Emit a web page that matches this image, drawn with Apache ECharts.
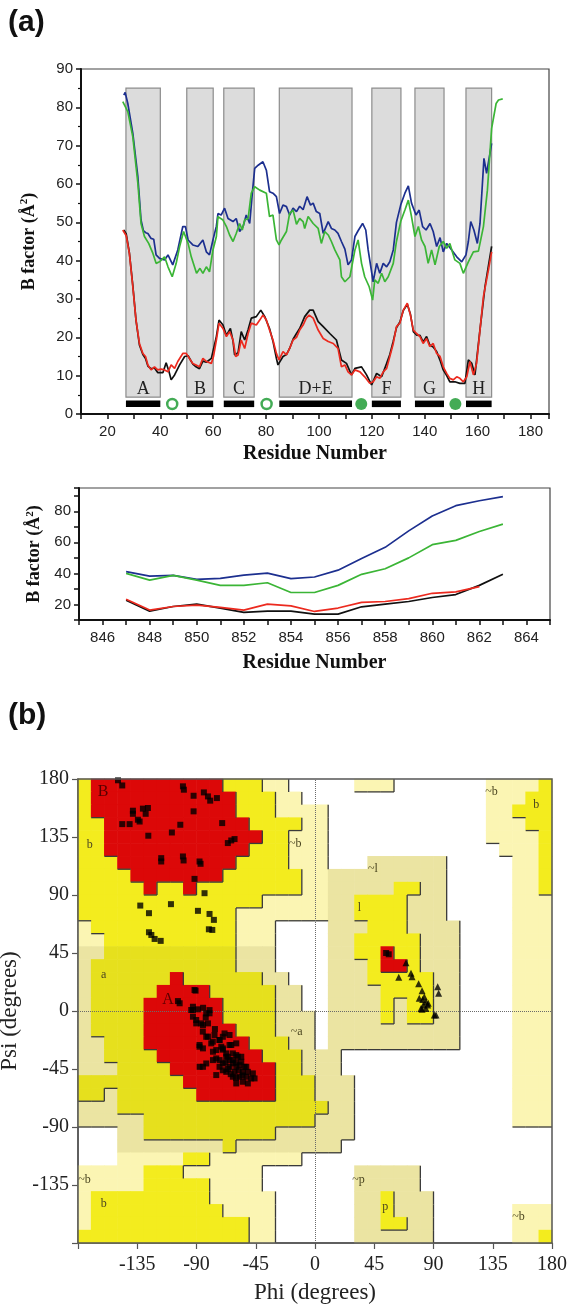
<!DOCTYPE html>
<html>
<head>
<meta charset="utf-8">
<title>B factors and Ramachandran plot</title>
<script src="https://cdn.jsdelivr.net/npm/echarts@6/dist/echarts.min.js"></script>
<style>
  html, body { margin: 0; padding: 0; background: #fff; }
  #chart { width: 571px; height: 1304px; }
</style>
</head>
<body>
<div id="chart"></div>
<script>
// ---- panel (a), upper plot: B factor per residue, [residue, B]
const blueTop = [[26.2,83.2],[26.7,83.9],[27.7,81],[29.6,73.2],[31.5,61.9],[32.7,50.6],[33.6,47.8],[34.5,47.3],[35.3,47.1],[36.5,45.8],[37.5,45.6],[38.4,41.5],[39.7,40.6],[41.6,40.2],[42.9,41.5],[44.7,38.9],[46.6,42.8],[48.5,48.9],[49.5,48.9],[50.5,45.4],[52.3,44.1],[54.2,43.7],[56.1,45.4],[57.4,42.3],[58.6,41.5],[59.9,45.4],[61.2,49],[61.8,52.3],[63,51.9],[64.3,53.7],[65.6,51],[67.5,50.2],[68.7,51],[70,47.6],[71.3,48.9],[72.5,51.9],[73.8,49.7],[74.8,57.6],[75.7,64.1],[77,64.9],[78.8,65.8],[80.1,63.6],[81.3,58],[82.6,57.6],[83.9,56.7],[85.1,52.3],[86.4,54.5],[87.7,54.1],[88.9,51.9],[90.2,53.7],[91.5,52.8],[92.7,54.2],[94,53.3],[95.5,56.7],[96.8,54.5],[97.8,55],[99,52.8],[100.3,52.3],[101.6,47.1],[103.5,50.2],[104.7,48.4],[106,48],[107.2,47.1],[108.5,45],[109.8,43],[111,38.9],[112.3,40.2],[113.6,46.3],[114.8,47.8],[116.5,49.7],[117.7,48],[118.6,42.8],[120.5,34.5],[121.8,39.3],[123,36.7],[124.3,39.3],[125.6,38.4],[126.8,39.7],[128.1,42.8],[129.3,50],[130.9,54.5],[132.5,57.6],[133.8,59.5],[135,55],[136.7,51.9],[137.9,53.2],[139.2,48.9],[140.5,48],[142,49.7],[143.2,47.6],[144.5,43.7],[145.8,46],[147,42.3],[148.3,44.5],[150.2,42.8],[152.1,41],[154,39.7],[155.6,41.5],[156.5,45],[157.4,50.2],[158.6,48],[159.9,44.5],[160.9,49.7],[162.4,66.7],[163.4,62.8],[165.3,70.6]];
const greenTop = [[25.8,81.5],[27.7,78.9],[29.6,72.3],[31.5,60.2],[32.7,49.7],[34,46.3],[35.6,44.5],[37.2,41.9],[38.4,39.3],[39.7,39.7],[41.6,41],[42.9,38.4],[44.5,35.8],[46,39.3],[47.3,43.7],[48.8,47.6],[49.5,48],[50.5,44.5],[51.7,41],[53.7,36.7],[55,38],[56.1,36.7],[57.4,38.4],[58.6,37.1],[59.9,42.8],[61.2,46.3],[61.8,51.5],[63.7,50.6],[65,48.9],[66.2,46.7],[67.5,45],[68.7,47.1],[70,49.7],[71,48],[71.9,50.6],[73.2,51],[74.4,57.6],[75.7,59.3],[77.6,58.4],[80.1,57.6],[81.3,51.5],[82.6,51.9],[83.9,45.4],[84.9,44.1],[85.8,45.4],[87.7,47.6],[88.9,52.3],[90.2,53.2],[91.5,49.5],[92.7,51],[94,50.2],[94.6,48.4],[95.9,51.5],[97.8,49.7],[99.7,48.4],[100.9,44.5],[102.2,47.6],[103.5,46.7],[104.7,45],[106,42.8],[107.9,40.2],[108.5,35.8],[109.8,34.5],[111.7,35.8],[113.6,42.8],[114.8,45.4],[116.1,39.3],[117.3,35.8],[119,33.2],[120.3,29.7],[121.1,35],[122.4,34.1],[123.7,36.7],[124.9,34.5],[126.2,35.8],[128.1,39.3],[129.3,45],[130.9,50.2],[132.5,53.2],[133.8,55.8],[135,51.5],[136.3,46.3],[137.6,48.9],[138.8,45.4],[140.1,43.7],[141.3,39.3],[142.6,42.8],[143.9,38.9],[145.5,43.7],[147,45],[148.3,43.2],[149.5,44.5],[151.4,40.2],[153.3,39.3],[154.6,36.7],[156.5,39.7],[158.4,42.3],[160.3,42.5],[162.2,48.9],[163.7,58.4],[165.3,74.5],[167,81],[167.9,81.9],[169.5,82.2]];
const redTop = [[25.8,48],[27.1,46.5],[28.3,41.9],[29.6,33.2],[30.8,24.5],[32.1,18.4],[33.4,15.8],[34.4,15],[35.3,12.8],[36.5,11.5],[37.8,12.3],[39,11.5],[40.3,11.7],[41.6,11.5],[42.9,11],[44.1,12.8],[45.4,11.9],[46.6,13.7],[48.5,15.8],[49.8,15.8],[51,14.5],[52.3,13.2],[53.5,12.8],[54.8,12.3],[56.1,14.5],[57.4,13.7],[59.3,13.2],[60.1,15],[61.2,19.3],[62.2,23.7],[63.7,22.3],[65,20.2],[66.2,21.5],[67.5,19.3],[68.5,15],[69.4,15.4],[70.6,19.3],[71.9,17.1],[73.2,21],[74.4,23.7],[76.3,23.2],[77.6,24.5],[78.8,25.8],[80.1,24.5],[81.3,21.9],[82.6,19.3],[83.9,15.8],[84.9,14.1],[86.4,16.3],[87.7,15.4],[88.9,17.1],[90.2,19.3],[91.5,20],[92.7,21.9],[94,23.2],[95.2,25],[96.3,25.8],[97.8,25],[99.7,21.9],[101.6,19.7],[103.5,18.9],[105.4,18.4],[107.2,17.1],[108.5,12.3],[109.8,12.8],[111,11],[112.3,10.2],[113.6,11.5],[115.5,11],[117.3,9.7],[119.2,8],[120.5,8.4],[121.8,9.7],[123,9.3],[124.3,11],[125.6,11.9],[126.8,15],[128.1,18.4],[129.3,22.8],[130.6,23.7],[131.9,27.1],[133.4,28.9],[134.6,25.8],[135.7,21.9],[136.9,21],[138.2,20.2],[139.4,18.4],[140.7,19.7],[141.9,17.6],[143.2,18.4],[144.5,15.8],[145.8,15],[147,12.3],[148.3,10.6],[149.5,9.3],[150.8,8.9],[152.1,9.7],[153.3,9.3],[154.6,8.4],[155.9,9.7],[157.1,13.7],[158.4,10.2],[159.6,13.2],[160.9,21.9],[162.2,30.6],[164.1,37.6],[165.3,42.3]];
const blackTop = [[26.2,48],[27.1,47],[28.3,42],[29.6,33.5],[30.8,24.5],[32.1,18],[33.4,15.5],[34.4,14.5],[35.3,12.5],[36.5,11.8],[37.8,12],[39,10.8],[39.7,10.6],[41,10.8],[42.2,13.4],[43.3,11],[44.1,8.9],[45.4,10.2],[47.3,12.8],[49.2,15],[50.5,15.2],[52.3,13],[53.5,12.3],[54.8,11.8],[56.1,13.8],[57.4,13.5],[59.3,14.5],[61.2,20.2],[62.2,24.5],[63.7,23.2],[65,20.5],[66.5,22.3],[67.5,19],[68.1,15.4],[69.4,16],[70.6,21.5],[71.9,19.3],[73.2,22],[74.4,25],[76.3,25.4],[78,27.1],[79.5,25.4],[81.3,22.3],[82.6,19],[83.9,14.5],[84.5,12.8],[86.4,15],[87.7,15.5],[88.9,17.1],[90.2,19.5],[91.5,21],[92.7,22.3],[94.6,25.4],[96.5,27.1],[97.8,27.1],[99.7,24.1],[101.6,22.8],[104.1,21],[106.6,19.3],[108.5,14.1],[110.4,13.2],[112.3,10.2],[113.6,11.9],[116.1,12.3],[118,10.2],[119.9,7.6],[121.8,10.6],[123.7,9.7],[125.6,13.2],[126.8,15.5],[128.1,19],[129.3,22.5],[130.6,24],[131.9,27],[133.4,28.6],[134.6,26],[135.7,21.5],[136.9,20.6],[138.2,20.5],[139.4,18.8],[140.7,20.2],[141.9,18],[143.2,17.5],[144.5,16.3],[145.8,14],[147,11.5],[148.3,10],[149.5,8.4],[151.4,8.4],[153.3,8],[155.2,8],[156.5,14.1],[157.8,13.2],[159,10.2],[160.9,22],[162.8,33.2],[165.3,43.7]];

// helices: [first residue, last residue, name]
const helices = [[27,40,'A'],[50,60,'B'],[64,75.5,'C'],[85,112.5,'D+E'],[120,131,'F'],[136.3,147.3,'G'],[155.6,165.3,'H']];
const openSites = [44.5, 80.2];
const filledSites = [116, 151.6];

// ---- panel (a), lower plot
const residuesLow = [847,848,849,850,851,852,853,854,855,856,857,858,859,860,861,862,863];
const blueLow  = [41.1,38.3,38.7,36.2,36.8,38.9,40.2,36.6,37.7,42.1,49.6,56.8,67.4,77,83.6,86.8,89.4];
const greenLow = [40,35.7,38.7,35.7,32.3,32.3,34,27.7,27.7,32.3,39.4,43,50,58.5,61.3,67,71.7];
const redLow   = [23.4,16.4,18.7,19.6,18.1,16.4,20.2,19.1,15.5,17.7,21.3,21.9,23.8,27.2,28.1,31.5,null];
const blackLow = [22.8,15.7,18.7,20.2,17.7,14.9,15.7,15.7,13.8,13.8,18.5,20.2,21.9,24.5,26.4,32.3,39.4];

// ---- panel (b): Ramachandran regions, 10 degree cells, psi 180 -> -180 (rows), phi -180 -> 180 (cols)
// 0 disallowed, 1 pale, 2 khaki, 3 allowed, 4 allowed (shaded), 5 core
const ramaRows = [
  '355555555553331100000111000000011113',
  '355555555555333110000000000000011133',
  '355555555555333111100000000000011333',
  '335555555555533331100000000000011133',
  '335555555555553311100000000000011113',
  '335555555555533311100000000000001113',
  '333555555555333311100022222200000113',
  '333355555553333331122222222200000113',
  '333335335333333331122222332200000113',
  '333333333333331111122333322200000111',
  '333333333333111111122333322200000111',
  '133333333333111000022233322220000111',
  '113333333333111000022333332220000111',
  '224444444444222000022335332220000111',
  '244444444444222000022235532220000111',
  '244444454444442200022233333220000111',
  '244444555544444220022223333220000111',
  '244445555554444220022223233220000111',
  '244445555554444222022223233220000111',
  '244445555555444222022222222220000111',
  '224445555555544422022222222220000111',
  '224444555555554442220000000000000111',
  '222444455555555442220000000000000111',
  '444444445555555444222000000000000111',
  '442444444555555444222000000000000111',
  '222444444444444444422000000000000111',
  '222224444444444444222000000000000111',
  '000224444444444222222000000000000000',
  '000222222224222222220000000000000000',
  '000111113311111110000000000000000000',
  '111113331111110000000222220000000000',
  '111113333311110000000222220000000000',
  '133333333311111000000223222000000000',
  '133333333331111000000223222000000111',
  '133333333333311000000223322000000111',
  '333333333333311000000222222000000113'
];
// residues: [phi, psi]
const nonGly = [[-149.6,179],[-146.4,175],[-100.3,174.3],[-99.6,171.7],[-92.2,167],[-84.4,169.6],[-81.3,166.5],[-79.6,163.2],[-74.5,165.2],[-138.3,155.4],[-138.3,153],[-130.7,157],[-126.9,157.5],[-128.6,153],[-134.5,148.4],[-133.2,147],[-146.4,145],[-140.8,145],[-92.2,154.9],[-102.3,144.5],[-108.7,138.5],[-70.5,145.8],[-126.6,136],[-66.2,130.3],[-63.6,132.3],[-61.1,133.4],[-116.8,118.6],[-116.8,116],[-100.3,119.9],[-99.8,116.8],[-87.7,116],[-86.9,114.2],[-91.5,102.5],[-83.9,91.4],[-132.7,81.8],[-126.1,75.9],[-109.4,82.9],[-88.9,77.7],[-80.1,75.3],[-76.8,70.7],[-80.6,63.4],[-78,62.9],[-126.1,61.1],[-124.3,59],[-121.8,55.9],[-117.2,54.4],
  [-104.1,7.7],[-102.8,6],[-90.7,15.8],[-92.7,3.3],[-88.9,1.3],[-85,2.5],[-80.1,0.7],[-94,0.8],[-92.7,-4.4],[-90.2,-9.6],[-85.1,-10.9],[-80.1,-1.8],[-81.3,-9.6],[-87.7,-27.7],[-81.3,-19.9],[-78.8,-25.1],[-75,-30.3],[-72.5,-22.5],[-64.9,-26.4],[-62.4,-32.9],[-58.6,-35.5],[-67.4,-35.5],[-70,-40.7],[-64.9,-43.3],[-59.8,-43.3],[-57.3,-42],[-54.8,-47.2],[-52.2,-51],[-48.5,-52.3],[-45.9,-52.3],[-51,-56.2],[-62.4,-51],[-67.4,-47.2],[-75,-49.7],[-77.5,-38.1],[-82.6,-40.7],[-87.6,-43.3],[-68.7,-17.4],[-62.4,-38.1],[-57.3,-51],[-61.1,-47.2],[-72.5,-43.3],[-67.4,-32.9],[-75,-36.8],[-71.2,-27.7],[-77.5,-31.6],[-64.9,-38.1],[-56,-39.4],[-53.5,-43.3],[-51,-47.2],[-47.2,-48.4],[-59.8,-56.2],[-54.8,-54.9],[-83,-5],[-76,-14],[-70,-30],[-60,-40],[-66,-45],
  [-91.5,16.3],[-92.7,0.8],[-90.2,-7],[-86.4,-9.6],[-82.6,-1.8],[-85.2,-16],[-82.6,-20],[-87.7,-26.4],[-85.1,-29],[-76.3,-18.6],[-72.5,-22.5],[-77.6,-23.8],[-70,-20],[-64.9,-18.6],[-70,-29],[-63.6,-26.4],[-59.8,-25.1],[-66.2,-35.5],[-59.8,-34.2],[-56,-35.5],[-72.5,-38.1],[-62.4,-40.6],[-52.2,-43.3],[-85.1,-43.3],[-68,-40],[-58,-46],[-64,-49],[-55,-50],[-70,-46],[-60,-52],
  [54,45],[56,44]];
const gly = [[69.1,37.5],[63.6,26.1],[72.9,29.2],[73.7,26.6],[78.7,21.2],[81.3,15.8],[79.2,9.8],[81.8,9],[84.3,7.2],[83,11.1],[85.6,4.6],[80.5,2],[93.2,18.9],[93.9,13.7],[90.6,-3.2],[82.3,4.7],[84.3,2],[81.3,1.3],[91.9,-3.1],[86,6]];
const regionLabels = [[-161,170,'B'],[-171,129,'b'],[-160.5,28,'a'],[-111.7,8.5,'A'],[-15,130,'~b'],[-14,-16,'~a'],[44,110,'~l'],[33.7,80,'l'],[33,-131,'~p'],[53.4,-152,'p'],[134,170,'~b'],[168,160,'b'],[-175,-131,'~b'],[-160.5,-150,'b'],[154.6,-160,'~b']];

const ramaColors = { '1': '#fbf5b3', '2': '#ebe4a2', '3': '#f3ec1e', '4': '#e6e01d', '5': '#dc0808' };
const levelOf = { '0': 0, '1': 1, '2': 1, '3': 2, '4': 2, '5': 3 };

const SANS = '"Liberation Sans", Arial, sans-serif';
const SERIF = '"Liberation Serif", "Times New Roman", serif';

// build cells and the dark edges along right / lower borders of each region
const ramaCells = [];
const ramaEdges = [];
function lvl(r, c) { return levelOf[ramaRows[r][c]]; }
for (let r = 0; r < 36; r++) {
  for (let c = 0; c < 36; c++) {
    const code = ramaRows[r][c];
    const phi = -180 + 10 * c, psiTop = 180 - 10 * r;
    if (code !== '0') ramaCells.push([phi, psiTop - 10, +code]);
    const L = lvl(r, c);
    if (L > 0) {
      if (c < 35 && lvl(r, c + 1) < L) ramaEdges.push([phi + 10, psiTop, phi + 10, psiTop - 10]);
      if (r < 35 && lvl(r + 1, c) < L) ramaEdges.push([phi, psiTop - 10, phi + 10, psiTop - 10]);
    }
  }
}

const chart = echarts.init(document.getElementById('chart'));

const G1 = { left: 81, top: 69, width: 468, height: 345 };
const G2 = { left: 79, top: 488, width: 471, height: 132 };
const G3 = { left: 78, top: 779, width: 474, height: 464 };

const helixTop = 85, helixBottom = 4.4, barTop = 3.5, barBottom = 1.8, siteY = 2.6;

function axisBase(extra) {
  return Object.assign({
    type: 'value',
    splitLine: { show: false },
    axisLine: { show: true, onZero: false, lineStyle: { color: '#111', width: 2 } },
    axisTick: { show: true, length: 5, lineStyle: { color: '#111', width: 1.5 } },
    axisLabel: { color: '#222', fontFamily: SANS, fontSize: 15 }
  }, extra);
}

const bName = {
  name: '{a|B factor (Å}{s|2}{a|)}',
  nameLocation: 'middle',
  nameTextStyle: {
    rich: {
      a: { fontFamily: SERIF, fontWeight: 'bold', fontSize: 18, color: '#111' },
      s: { fontFamily: SERIF, fontWeight: 'bold', fontSize: 11, color: '#111', padding: [0, 0, 9, 0] }
    }
  }
};
const resName = {
  name: 'Residue Number',
  nameLocation: 'middle',
  nameTextStyle: { fontFamily: SERIF, fontWeight: 'bold', fontSize: 20, color: '#111' }
};

function lineSeries(data, color, xi) {
  return {
    type: 'line', xAxisIndex: xi, yAxisIndex: xi, data: data,
    showSymbol: false, symbol: 'none', z: 5,
    lineStyle: { color: color, width: 1.7 }
  };
}

const option = {
  animation: false,
  backgroundColor: '#fff',
  grid: [
    Object.assign({ show: true, borderColor: '#444', borderWidth: 1.2, outerBoundsMode: 'none' }, G1),
    Object.assign({ show: true, borderColor: '#444', borderWidth: 1.2, outerBoundsMode: 'none' }, G2),
    Object.assign({ show: false, outerBoundsMode: 'none' }, G3)
  ],
  graphic: [
    { type: 'text', left: 8, top: 8, style: { text: '(a)', font: 'bold 30px ' + SANS, fill: '#111' } },
    { type: 'text', left: 8, top: 701, style: { text: '(b)', font: 'bold 30px ' + SANS, fill: '#111' } },
    { type: 'rect', z: 100, shape: { x: G3.left, y: G3.top, width: G3.width, height: G3.height },
      style: { fill: 'none', stroke: '#555', lineWidth: 1.5 } }
  ],
  xAxis: [
    axisBase(Object.assign({
      gridIndex: 0, min: 10, max: 187, interval: 10, nameGap: 30,
      axisLabel: { color: '#222', fontFamily: SANS, fontSize: 15, margin: 10,
        formatter: v => (v % 20 === 0 && v >= 20 && v <= 180) ? v : '' }
    }, resName)),
    axisBase(Object.assign({
      gridIndex: 1, min: 845, max: 865, interval: 1, nameGap: 33,
      axisLabel: { color: '#222', fontFamily: SANS, fontSize: 15, margin: 10,
        formatter: v => (v % 2 === 0) ? v : '' }
    }, resName)),
    axisBase({
      gridIndex: 2, min: -180, max: 180, interval: 45,
      name: 'Phi (degrees)', nameLocation: 'middle', nameGap: 38,
      nameTextStyle: { fontFamily: SERIF, fontSize: 23, color: '#222' },
      axisLine: { show: true, onZero: false, lineStyle: { color: '#555', width: 1.5 } },
      axisTick: { show: true, length: 6, lineStyle: { color: '#555', width: 1.2 } },
      axisLabel: { color: '#222', fontFamily: SERIF, fontSize: 20, margin: 12,
        formatter: v => v === -180 ? '' : v }
    })
  ],
  yAxis: [
    axisBase(Object.assign({
      gridIndex: 0, min: 0, max: 90, interval: 10, nameGap: 42,
      minorTick: { show: true, splitNumber: 2, length: 3, lineStyle: { color: '#111', width: 1.2 } },
      axisLabel: { color: '#222', fontFamily: SANS, fontSize: 15, margin: 8 }
    }, bName)),
    axisBase(Object.assign({
      gridIndex: 1, min: 10, max: 95, interval: 10, nameGap: 33,
      axisLabel: { color: '#222', fontFamily: SANS, fontSize: 15, margin: 8,
        formatter: v => (v % 20 === 0 && v >= 20 && v <= 80) ? v : '' }
    }, bName)),
    axisBase({
      gridIndex: 2, min: -180, max: 180, interval: 45,
      name: 'Psi (degrees)', nameLocation: 'middle', nameGap: 48,
      nameTextStyle: { fontFamily: SERIF, fontSize: 23, color: '#222' },
      axisLine: { show: true, onZero: false, lineStyle: { color: '#555', width: 1.5 } },
      axisTick: { show: true, length: 6, lineStyle: { color: '#555', width: 1.2 } },
      axisLabel: { color: '#222', fontFamily: SERIF, fontSize: 20, margin: 9,
        formatter: v => v === -180 ? '' : v }
    })
  ],
  series: [
    // helix boxes with names
    {
      type: 'custom', xAxisIndex: 0, yAxisIndex: 0, z: 1,
      data: helices.map((h, i) => [h[0], h[1], i]),
      renderItem: function (params, api) {
        const p1 = api.coord([api.value(0), helixTop]);
        const p2 = api.coord([api.value(1), helixBottom]);
        const b1 = api.coord([api.value(0), barTop]);
        const b2 = api.coord([api.value(1), barBottom]);
        return {
          type: 'group',
          children: [
            { type: 'rect', shape: { x: p1[0], y: p1[1], width: p2[0] - p1[0], height: p2[1] - p1[1] },
              style: { fill: '#dcdcdc', stroke: '#8c8c8c', lineWidth: 1.2 } },
            { type: 'rect', shape: { x: b1[0], y: b1[1], width: b2[0] - b1[0], height: b2[1] - b1[1] },
              style: { fill: '#000' } },
            { type: 'text', style: { text: helices[params.dataIndex][2], x: (p1[0] + p2[0]) / 2, y: p2[1] + 1,
              align: 'center', verticalAlign: 'bottom', fontFamily: SERIF, fontSize: 18, fill: '#222' } }
          ]
        };
      }
    },
    {
      type: 'scatter', xAxisIndex: 0, yAxisIndex: 0, z: 4, symbol: 'circle', symbolSize: 10,
      data: openSites.map(x => [x, siteY]),
      itemStyle: { color: '#fff', borderColor: '#14962a', borderWidth: 2.5 }
    },
    {
      type: 'scatter', xAxisIndex: 0, yAxisIndex: 0, z: 4, symbol: 'circle', symbolSize: 12,
      data: filledSites.map(x => [x, siteY]),
      itemStyle: { color: '#14962a' }
    },
    lineSeries(blueTop, '#1c2f8f', 0),
    lineSeries(greenTop, '#3bb536', 0),
    lineSeries(blackTop, '#111111', 0),
    lineSeries(redTop, '#ec2a1f', 0),

    lineSeries(residuesLow.map((r, i) => [r, blueLow[i]]), '#1c2f8f', 1),
    lineSeries(residuesLow.map((r, i) => [r, greenLow[i]]), '#3bb536', 1),
    lineSeries(residuesLow.map((r, i) => [r, blackLow[i]]), '#111111', 1),
    lineSeries(residuesLow.map((r, i) => [r, redLow[i]]), '#ec2a1f', 1),

    // Ramachandran regions
    {
      type: 'custom', xAxisIndex: 2, yAxisIndex: 2, z: 1, silent: true,
      data: ramaCells,
      renderItem: function (params, api) {
        const p1 = api.coord([api.value(0), api.value(1) + 10]);
        const p2 = api.coord([api.value(0) + 10, api.value(1)]);
        return {
          type: 'rect',
          shape: { x: p1[0] - 0.3, y: p1[1] - 0.3, width: p2[0] - p1[0] + 0.6, height: p2[1] - p1[1] + 0.6 },
          style: { fill: ramaColors[String(api.value(2))] }
        };
      }
    },
    {
      type: 'custom', xAxisIndex: 2, yAxisIndex: 2, z: 2, silent: true,
      data: ramaEdges,
      renderItem: function (params, api) {
        const a = api.coord([api.value(0), api.value(1)]);
        const b = api.coord([api.value(2), api.value(3)]);
        return { type: 'line', shape: { x1: a[0], y1: a[1], x2: b[0], y2: b[1] },
          style: { stroke: '#3a3a3a', lineWidth: 1.3 } };
      }
    },
    {
      type: 'custom', xAxisIndex: 2, yAxisIndex: 2, z: 3, silent: true,
      data: regionLabels.map((d, i) => [d[0], d[1], i]),
      renderItem: function (params, api) {
        const p = api.coord([api.value(0), api.value(1)]);
        const t = regionLabels[params.dataIndex][2];
        const big = (t === 'A' || t === 'B');
        return { type: 'text', style: { text: t, x: p[0], y: p[1], align: 'center', verticalAlign: 'middle',
          fontFamily: SERIF, fontSize: big ? 16 : 12, fill: big ? '#5a0000' : '#4a4520' } };
      }
    },
    {
      type: 'scatter', xAxisIndex: 2, yAxisIndex: 2, z: 6, symbol: 'rect', symbolSize: 6,
      data: nonGly, itemStyle: { color: '#000' },
      markLine: {
        silent: true, symbol: ['none', 'none'], label: { show: false },
        lineStyle: { type: 'dotted', color: '#6a6a6a', width: 1 },
        data: [{ xAxis: 0 }, { yAxis: 0 }]
      }
    },
    {
      type: 'scatter', xAxisIndex: 2, yAxisIndex: 2, z: 6, symbol: 'triangle', symbolSize: 7,
      data: gly, itemStyle: { color: '#000' }
    }
  ]
};

chart.setOption(option);
</script>
</body>
</html>
